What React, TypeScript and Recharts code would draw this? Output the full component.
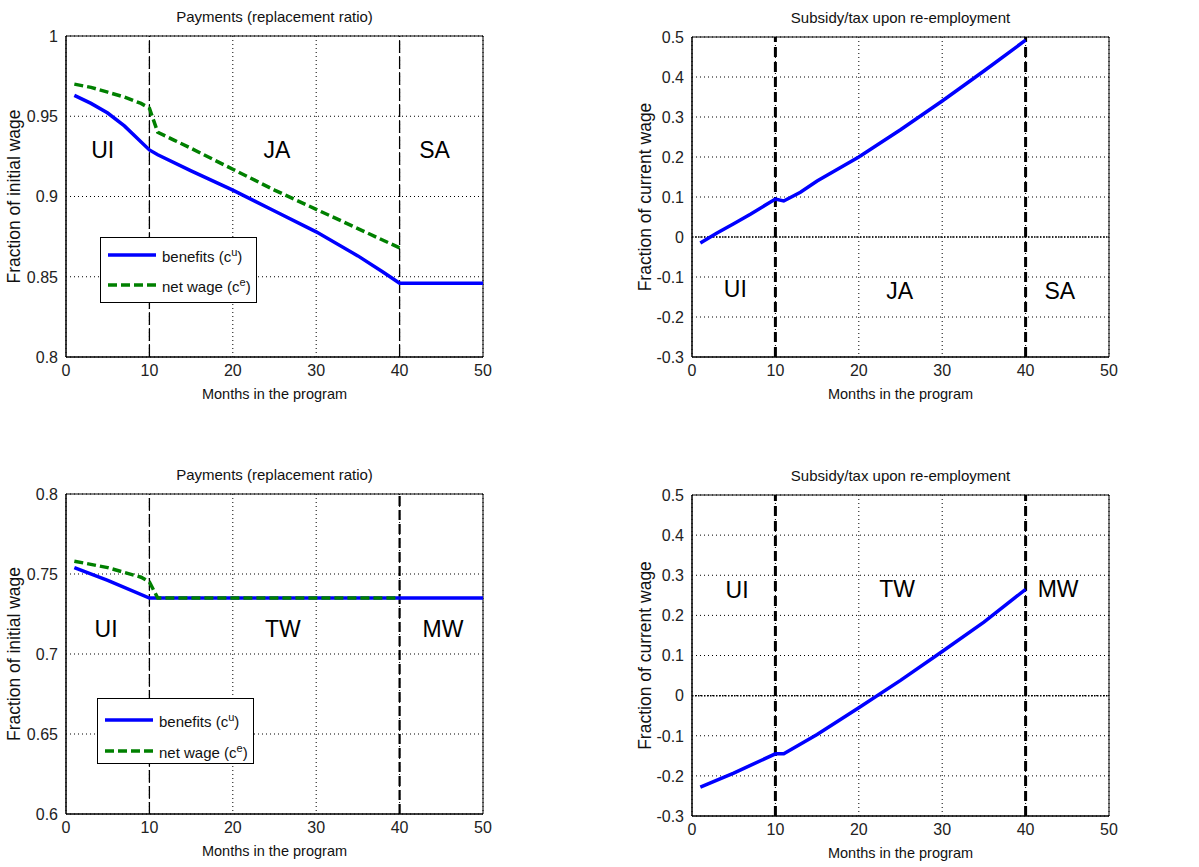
import React from 'react';
import {
  LineChart,
  Line,
  XAxis,
  YAxis,
  CartesianGrid,
  ReferenceLine,
  ReferenceArea,
  ReferenceDot,
  Legend,
} from 'recharts';

const FONT = '"Liberation Sans", Arial, Helvetica, sans-serif';
const BLUE = '#0000ff';
const GREEN = '#008000';
const TICK_SIZE = 16;

// x axis (months)
const monthTicks = [0, 10, 20, 30, 40, 50];

// top row: UI -> JA -> SA
const monthsTopBenefits = [1, 3, 5, 7, 10, 11, 15, 20, 25, 30, 35, 38, 40, 50];
const benefitsTop = [0.963, 0.958, 0.952, 0.944, 0.929, 0.926, 0.916, 0.904, 0.891, 0.878, 0.863, 0.853, 0.846, 0.846];
const monthsTopNet = [1, 3, 5, 7, 9, 10, 11, 13, 15, 20, 25, 30, 35, 40];
const netWageTop = [0.97, 0.968, 0.965, 0.962, 0.958, 0.955, 0.94, 0.935, 0.93, 0.917, 0.904, 0.892, 0.88, 0.868];
const monthsTopSubsidy = [1, 3, 5, 7, 10, 11, 13, 15, 20, 25, 30, 35, 40];
const subsidyTop = [-0.015, 0.01, 0.033, 0.057, 0.095, 0.09, 0.112, 0.14, 0.2, 0.268, 0.34, 0.415, 0.492];

// bottom row: UI -> TW -> MW
const monthsBottomBenefits = [1, 5, 10, 50];
const benefitsBottom = [0.754, 0.746, 0.735, 0.735];
const monthsBottomNet = [1, 5, 9, 10, 11, 40];
const netWageBottom = [0.758, 0.754, 0.748, 0.745, 0.735, 0.735];
const monthsBottomSubsidy = [1, 5, 10, 11, 15, 20, 25, 30, 35, 40];
const subsidyBottom = [-0.228, -0.193, -0.145, -0.145, -0.097, -0.03, 0.038, 0.11, 0.183, 0.265];

const paymentTicksTop = [0.8, 0.85, 0.9, 0.95, 1];
const paymentTicksBottom = [0.6, 0.65, 0.7, 0.75, 0.8];
const subsidyTicks = [-0.3, -0.2, -0.1, 0, 0.1, 0.2, 0.3, 0.4, 0.5];

const programSwitches = [10, 40];

const toPoints = (xs: number[], ys: number[]) => xs.map((m, i) => ({ month: m, value: ys[i] }));

type Region = { text: string; x: number; y: number };
type Series = { key: string; data: { month: number; value: number }[]; color: string; dashed?: boolean };
type VLine = { x: number; width: number; dash: string };

interface PanelProps {
  left: number;
  top: number;
  plotTop: number;
  plotHeight: number;
  yAxisWidth: number;
  yLabelOffset: number;
  title: string;
  yLabel: string;
  yTicks: number[];
  series: Series[];
  regions: Region[];
  vlines: VLine[];
  zeroLine?: boolean;
  legendPos?: { left: number; top: number; row1: number; row2: number };
}

const XTick = (props: any) => (
  <text x={props.x} y={props.y} dy="0.75em" textAnchor="middle" fontSize={TICK_SIZE} fill="#222">
    {props.payload.value}
  </text>
);

const YTick = (props: any) => (
  <text x={props.x} y={props.y} dy="0.36em" textAnchor="end" fontSize={TICK_SIZE} fill="#222">
    {props.payload.value}
  </text>
);

function LegendBox({ row1, row2 }: { row1: number; row2: number }) {
  const rowStyle = (t: number): React.CSSProperties => ({
    position: 'absolute',
    left: 0,
    top: t - 10,
    height: 20,
    display: 'flex',
    alignItems: 'center',
    whiteSpace: 'nowrap',
  });
  return (
    <div
      style={{
        position: 'relative',
        width: 157,
        height: 66,
        border: '1px solid #000',
        background: '#fff',
        fontFamily: FONT,
        fontSize: 15,
        color: '#111',
        boxSizing: 'border-box',
      }}
    >
      <div style={rowStyle(row1)}>
        <svg width={61} height={20}>
          <line x1={7} x2={55} y1={10} y2={10} stroke={BLUE} strokeWidth={3.5} />
        </svg>
        <span>
          benefits (c<sup style={{ fontSize: 11 }}>u</sup>)
        </span>
      </div>
      <div style={rowStyle(row2)}>
        <svg width={61} height={20}>
          <line x1={7} x2={55} y1={10} y2={10} stroke={GREEN} strokeWidth={3.5} strokeDasharray="9 4" />
        </svg>
        <span>
          net wage (c<sup style={{ fontSize: 11 }}>e</sup>)
        </span>
      </div>
    </div>
  );
}

function Panel(p: PanelProps) {
  const width = 600;
  const xAxisHeight = 42;
  const height = p.plotTop + p.plotHeight + xAxisHeight + 10;
  const plotRight = 483 + (p.yAxisWidth - 66);
  const yMin = p.yTicks[0];
  const yMax = p.yTicks[p.yTicks.length - 1];
  return (
    <div style={{ position: 'absolute', left: p.left, top: p.top, width, height, fontFamily: FONT }}>
      <div
        style={{
          position: 'absolute',
          top: p.plotTop - 28,
          left: p.yAxisWidth,
          width: 417,
          textAlign: 'center',
          fontSize: 15,
          color: '#111',
          whiteSpace: 'nowrap',
        }}
      >
        {p.title}
      </div>
      <LineChart
        width={width}
        height={height}
        margin={{ top: p.plotTop, right: width - plotRight, left: 0, bottom: 10 }}
      >
        <CartesianGrid stroke="#000" strokeDasharray="1 3" strokeWidth={1} />
        <XAxis
          type="number"
          dataKey="month"
          domain={[0, 50]}
          ticks={monthTicks}
          height={xAxisHeight}
          tickSize={0}
          tickMargin={7}
          tick={XTick}
          axisLine={{ stroke: '#000' }}
          allowDuplicatedCategory={false}
          label={{ value: 'Months in the program', position: 'insideBottom', offset: 0, fill: '#111', fontSize: 14.5 }}
        />
        <YAxis
          type="number"
          domain={[yMin, yMax]}
          ticks={p.yTicks}
          width={p.yAxisWidth}
          tickSize={0}
          tickMargin={8}
          tick={YTick}
          axisLine={{ stroke: '#000' }}
          allowDataOverflow
          label={{
            value: p.yLabel,
            angle: -90,
            position: 'insideLeft',
            offset: p.yLabelOffset,
            fill: '#111',
            fontSize: 17.5,
            style: { textAnchor: 'middle' },
          }}
        />
        <ReferenceArea x1={0} x2={50} y1={yMin} y2={yMax} fill="none" stroke="#000" strokeWidth={1} />
        {p.zeroLine && <ReferenceLine y={0} stroke="#000" strokeWidth={1.5} strokeDasharray="1.5 1.5" />}
        {p.vlines.map((v) => (
          <ReferenceLine key={v.x} x={v.x} stroke="#000" strokeWidth={v.width} strokeDasharray={v.dash} />
        ))}
        {p.series.map((s) => (
          <Line
            key={s.key}
            data={s.data}
            dataKey="value"
            type="linear"
            stroke={s.color}
            strokeWidth={3.5}
            strokeDasharray={s.dashed ? '9 4' : undefined}
            dot={false}
            activeDot={false}
            isAnimationActive={false}
          />
        ))}
        {p.regions.map((r) => (
          <ReferenceDot
            key={r.text}
            x={r.x}
            y={r.y}
            r={0}
            fill="none"
            stroke="none"
            label={{ value: r.text, position: 'center', fontSize: 23, fill: '#000' }}
          />
        ))}
        {p.legendPos && (
          <Legend
            layout="vertical"
            align="center"
            verticalAlign="middle"
            wrapperStyle={{ left: p.legendPos.left, top: p.legendPos.top, width: 'auto', height: 'auto' }}
            content={() => <LegendBox row1={p.legendPos!.row1} row2={p.legendPos!.row2} />}
          />
        )}
      </LineChart>
    </div>
  );
}

const thinSwitch = (x: number): VLine => ({ x, width: 1.3, dash: '12 4' });
const thickSwitch = (x: number): VLine => ({ x, width: 3, dash: '10 5' });

export default function App() {
  return (
    <div style={{ position: 'absolute', left: 0, top: 0, width: 1199, height: 867, background: '#fff' }}>
      <Panel
        left={0}
        top={0}
        plotTop={36}
        plotHeight={321}
        yAxisWidth={66}
        yLabelOffset={14}
        title="Payments (replacement ratio)"
        yLabel="Fraction of initial wage"
        yTicks={paymentTicksTop}
        series={[
          { key: 'benefits', data: toPoints(monthsTopBenefits, benefitsTop), color: BLUE },
          { key: 'net', data: toPoints(monthsTopNet, netWageTop), color: GREEN, dashed: true },
        ]}
        regions={[
          { text: 'UI', x: 4.4, y: 0.929 },
          { text: 'JA', x: 25.3, y: 0.929 },
          { text: 'SA', x: 44.2, y: 0.929 },
        ]}
        vlines={programSwitches.map(thinSwitch)}
        legendPos={{ left: 100, top: 237, row1: 17, row2: 47 }}
      />
      <Panel
        left={600}
        top={0}
        plotTop={37}
        plotHeight={320}
        yAxisWidth={92}
        yLabelOffset={45}
        title="Subsidy/tax upon re-employment"
        yLabel="Fraction of current wage"
        yTicks={subsidyTicks}
        series={[{ key: 'subsidy', data: toPoints(monthsTopSubsidy, subsidyTop), color: BLUE }]}
        regions={[
          { text: 'UI', x: 5.2, y: -0.13 },
          { text: 'JA', x: 24.9, y: -0.135 },
          { text: 'SA', x: 44.1, y: -0.135 },
        ]}
        vlines={programSwitches.map(thickSwitch)}
        zeroLine
      />
      <Panel
        left={0}
        top={440}
        plotTop={54}
        plotHeight={320}
        yAxisWidth={66}
        yLabelOffset={14}
        title="Payments (replacement ratio)"
        yLabel="Fraction of initial wage"
        yTicks={paymentTicksBottom}
        series={[
          { key: 'benefits', data: toPoints(monthsBottomBenefits, benefitsBottom), color: BLUE },
          { key: 'net', data: toPoints(monthsBottomNet, netWageBottom), color: GREEN, dashed: true },
        ]}
        regions={[
          { text: 'UI', x: 4.8, y: 0.716 },
          { text: 'TW', x: 26, y: 0.716 },
          { text: 'MW', x: 45.2, y: 0.716 },
        ]}
        vlines={[thinSwitch(10), { x: 40, width: 2.2, dash: '10 4' }]}
        legendPos={{ left: 97, top: 258, row1: 21, row2: 52 }}
      />
      <Panel
        left={600}
        top={440}
        plotTop={55}
        plotHeight={321}
        yAxisWidth={92}
        yLabelOffset={45}
        title="Subsidy/tax upon re-employment"
        yLabel="Fraction of current wage"
        yTicks={subsidyTicks}
        series={[{ key: 'subsidy', data: toPoints(monthsBottomSubsidy, subsidyBottom), color: BLUE }]}
        regions={[
          { text: 'UI', x: 5.4, y: 0.263 },
          { text: 'TW', x: 24.6, y: 0.267 },
          { text: 'MW', x: 43.9, y: 0.267 },
        ]}
        vlines={programSwitches.map(thickSwitch)}
        zeroLine
      />
    </div>
  );
}
